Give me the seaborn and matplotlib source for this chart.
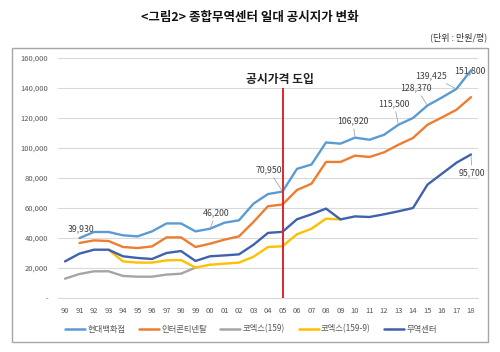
import numpy as np
import pandas as pd
import matplotlib
matplotlib.use("Agg")
import matplotlib.pyplot as plt
import matplotlib.patches as patches
from matplotlib.lines import Line2D
import seaborn as sns

nan = np.nan
years = ["90", "91", "92", "93", "94", "95", "96", "97", "98", "99", "00", "01", "02", "03", "04",
         "05", "06", "07", "08", "09", "10", "11", "12", "13", "14", "15", "16", "17", "18"]
hyundai = [nan, 39930, 44000, 44000, 41800, 41100, 44400, 49700, 49700, 44400, 46200, 50200, 51800, 62900,
           69300, 70950, 86100, 89000, 103700, 102900, 106920, 105500, 108800, 115500, 120000, 128370,
           133700, 139425, 151800]
intercont = [nan, 36700, 38400, 38000, 34000, 33300, 34400, 40400, 40400, 34000, 36200, 38900, 41100, 50700,
             61200, 62300, 72000, 76200, 90700, 90700, 94900, 94000, 97100, 102200, 106700, 115500,
             120400, 125500, 133900]
coex159 = [12900, 16000, 17800, 17800, 14700, 14200, 14200, 15600, 16200, 20300] + [nan] * 19
coex1599 = [nan, nan, nan, 32200, 24400, 23600, 23600, 25100, 25300, 20300, 22200, 22900, 23600, 27500,
            34000, 34500, 42500, 46200, 52900, 52400] + [nan] * 9
tradectr = [24400, 29600, 32200, 32200, 27800, 26700, 26000, 30000, 31300, 24700, 27800, 28400, 29100, 35500,
            43400, 44100, 52500, 55800, 59600, 52400, 54400, 54000, 55800, 57800, 60000, 75600, 82900,
            90200, 95700]
series_names = ["현대백화점", "인터콘티넨탈", "코엑스(159)", "코엑스(159-9)", "무역센터"]
series_vals = [hyundai, intercont, coex159, coex1599, tradectr]
colors = ["#5B9BD5", "#ED7D31", "#A5A5A5", "#FFC000", "#3F62AE"]
y_ticks = [0, 20000, 40000, 60000, 80000, 100000, 120000, 140000, 160000]
intro_year = "05"
intro_label = "공시가격 도입"
title = "<그림2> 종합무역센터 일대 공시지가 변화"
unit = "(단위 : 만원/평)"

# annotations: (series index, year, text, offset px, leader)
annots = [
    (0, "91", "39,930", (1.5, 9), False),
    (0, "00", "46,200", (6, 15.5), True),
    (0, "05", "70,950", (-13.5, 21.5), True),
    (0, "10", "106,920", (-2, 16.5), True),
    (0, "13", "115,500", (-4.5, 21), True),
    (0, "15", "128,370", (-11.5, 17.5), True),
    (0, "17", "139,425", (-25.5, 13), True),
    (0, "18", "151,800", (-1, -0.5), False),
    (4, "18", "95,700", (1, -18.5), True),
]

sns.set_style("white")
plt.rcParams["font.family"] = ["Noto Sans CJK KR", "DejaVu Sans"]

rows = []
for name, vals in zip(series_names, series_vals):
    for i, v in enumerate(vals):
        if not np.isnan(v):
            rows.append({"idx": i, "year": years[i], "value": v, "series": name})
df = pd.DataFrame(rows)

fig = plt.figure(figsize=(5, 3.52), dpi=100)
ax = fig.add_axes([57.75 / 500, 1 - 298 / 352, 420.5 / 500, 240 / 352])

for name, col in zip(series_names, colors):
    sub = df[df["series"] == name]
    sns.lineplot(data=sub, x="idx", y="value", color=col, lw=1.7, ax=ax, legend=False, sort=True)

xi = years.index(intro_year)
ax.vlines(xi, 0, 140200, color="#E0262B", lw=1.4, zorder=5)
ax.text(xi - 0.2, 146000, intro_label, ha="center", va="center", fontsize=8.5, fontweight="bold", color="#222222")

ax.set_xlim(-0.5, len(years) - 0.5)
ax.set_ylim(0, 160000)
ax.set_xticks(range(len(years)))
ax.set_xticklabels(years)
ax.set_yticks(y_ticks)
ax.set_yticklabels(["-" if t == 0 else f"{t:,}" for t in y_ticks])
ax.tick_params(axis="x", labelsize=5.5, length=0, pad=6.5, colors="#595959")
ax.tick_params(axis="y", labelsize=5.5, length=0, pad=7, colors="#595959")
ax.set_xlabel("")
ax.set_ylabel("")
ax.grid(axis="y", color="#D9D9D9", lw=0.8)
ax.set_axisbelow(True)
for s in ["top", "right", "left"]:
    ax.spines[s].set_visible(False)
ax.spines["bottom"].set_color("#D9D9D9")
ax.spines["bottom"].set_linewidth(0.8)

for si, yr, txt, off, leader in annots:
    i = years.index(yr)
    v = series_vals[si][i]
    ap = dict(arrowstyle="-", color="#A6A6A6", lw=0.6, shrinkA=0, shrinkB=1) if leader else None
    ax.annotate(txt, xy=(i, v), xytext=off, textcoords="offset pixels", ha="center", va="center",
                fontsize=6.3, color="#404040", arrowprops=ap, zorder=6)

fig.text(0.5, 1 - 17 / 352, title, ha="center", va="center", fontsize=9, fontweight="bold", color="#111111")
fig.text(487 / 500, 1 - 37 / 352, unit, ha="right", va="center", fontsize=6.5, color="#333333")

fig.patches.append(patches.Rectangle((12 / 500, 1 - 342 / 352), 476 / 500, 294 / 352, transform=fig.transFigure,
                                     fill=False, edgecolor="#A6A6A6", lw=1))

handles = [Line2D([0], [0], color=c, lw=1.8) for c in colors]
fig.legend(handles, series_names, loc="center", bbox_to_anchor=(251 / 500, 1 - 329 / 352), ncol=5,
           frameon=False, fontsize=6, handlelength=2.4, handletextpad=0.3, columnspacing=1.6,
           labelcolor="#595959")

fig.savefig("out.png", dpi=100)
